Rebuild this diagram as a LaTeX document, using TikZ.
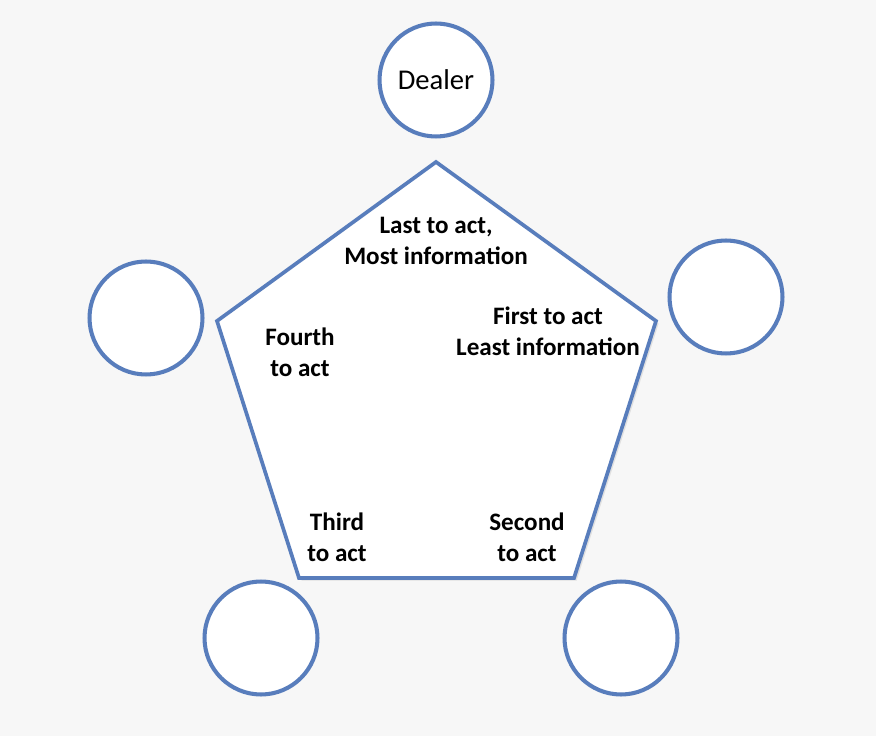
\documentclass[tikz,border=0pt]{standalone}
\usepackage{fontspec}
\setmainfont{Carlito}
\usepackage{xcolor}
\definecolor{seatblue}{RGB}{88,125,188}
\definecolor{backgray}{RGB}{247,247,247}

\begin{document}
\begin{tikzpicture}[x=0.02cm,y=-0.02cm,seat/.style={circle,draw=seatblue,line width=2.3pt,fill=white,minimum size=2.26cm,inner sep=0pt,font=\fontsize{16.3}{19}\selectfont},
	info/.style={align=center,font=\bfseries\fontsize{14.3}{17.6}\selectfont}]
	\fill[backgray] (0,0) rectangle (876,736);
	\useasboundingbox (0,0) rectangle (876,736);
	% table
	\coordinate (T1) at (436,162);
	\coordinate (T2) at (656,321);
	\coordinate (T3) at (574,578);
	\coordinate (T4) at (299,578);
	\coordinate (T5) at (217,321);
	\fill[black!12] ([xshift=1.5pt,yshift=-1.5pt]T1) -- ([xshift=1.5pt,yshift=-1.5pt]T2) -- ([xshift=1.5pt,yshift=-1.5pt]T3) -- ([xshift=1.5pt,yshift=-1.5pt]T4) -- ([xshift=1.5pt,yshift=-1.5pt]T5) -- cycle;
	\draw[seatblue,line width=2.1pt,fill=white,line join=miter] (T1) -- (T2) -- (T3) -- (T4) -- (T5) -- cycle;
	% seats
	\node[seat] (dealer) at (436,80) {Dealer};
	\node[seat] (first) at (726,297) {};
	\node[seat] (second) at (621,638) {};
	\node[seat] (third) at (261,638) {};
	\node[seat] (fourth) at (146,318) {};
	% labels
	\node[info] (lastlbl) at (436,241) {Last to act,\\Most information};
	\node[info] (firstlbl) at (548,331) {First to act\\Least information};
	\node[info] (fourthlbl) at (300,352) {Fourth\\to act};
	\node[info] (thirdlbl) at (337,537) {Third\\to act};
	\node[info] (secondlbl) at (527,537) {Second\\to act};
\end{tikzpicture}
\end{document}
